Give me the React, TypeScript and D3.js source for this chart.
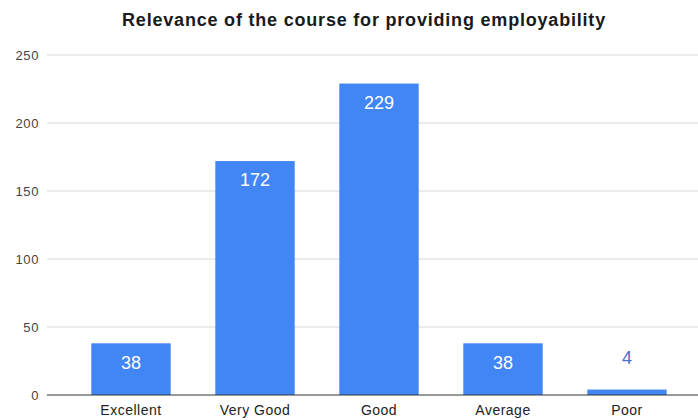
import React from "react";
import * as d3 from "d3";

const categories = ["Excellent", "Very Good", "Good", "Average", "Poor"];
const values = [38, 172, 229, 38, 4];
const yTicks = [0, 50, 100, 150, 200, 250];
const title = "Relevance of the course for providing employability";

const W = 698;
const H = 420;

export default function App() {
  const y = d3.scaleLinear().domain([0, 250]).range([395, 55]);
  const x = d3
    .scaleBand<string>()
    .domain(categories)
    .range([69, 689])
    .paddingInner(0.36)
    .paddingOuter(0.18);
  const font = "'Liberation Sans', Arial, sans-serif";
  return (
    <div style={{ position: "absolute", left: 0, top: 0 }}>
      <svg width={W} height={H} style={{ display: "block", background: "#fff" }}>
        <text
          x={364}
          y={26}
          textAnchor="middle"
          fontFamily={font}
          fontWeight="bold"
          fontSize={18}
          letterSpacing={0.8}
          fill="#1a1a1a"
        >
          {title}
        </text>
        {yTicks.map((t) => (
          <g key={t}>
            {t !== 0 && (
              <line x1={47} x2={698} y1={y(t)} y2={y(t)} stroke="#d9d9d9" strokeWidth={1} />
            )}
            <text
              x={39}
              y={y(t)}
              dy="0.35em"
              textAnchor="end"
              fontFamily={font}
              fontSize={13}
              letterSpacing={0.6}
              fill="#444"
            >
              {t}
            </text>
          </g>
        ))}
        {categories.map((c, i) => {
          const v = values[i];
          const bx = x(c)!;
          const bw = x.bandwidth();
          const top = y(v);
          const h = y(0) - top;
          const inside = h > 30;
          return (
            <g key={c}>
              <rect x={bx} y={top} width={bw} height={h} fill="#4285f4" />
              <text
                x={bx + bw / 2}
                y={inside ? top + 19 : top - 32}
                dy="0.35em"
                textAnchor="middle"
                fontFamily={font}
                fontSize={18}
                fill={inside ? "#ffffff" : "#4a72c8"}
              >
                {v}
              </text>
              <text
                x={bx + bw / 2}
                y={410}
                dy="0.35em"
                textAnchor="middle"
                fontFamily={font}
                fontSize={14}
                letterSpacing={0.5}
                fill="#222"
              >
                {c}
              </text>
            </g>
          );
        })}
        <line x1={47} x2={698} y1={y(0)} y2={y(0)} stroke="#333" strokeWidth={1} />
      </svg>
    </div>
  );
}
